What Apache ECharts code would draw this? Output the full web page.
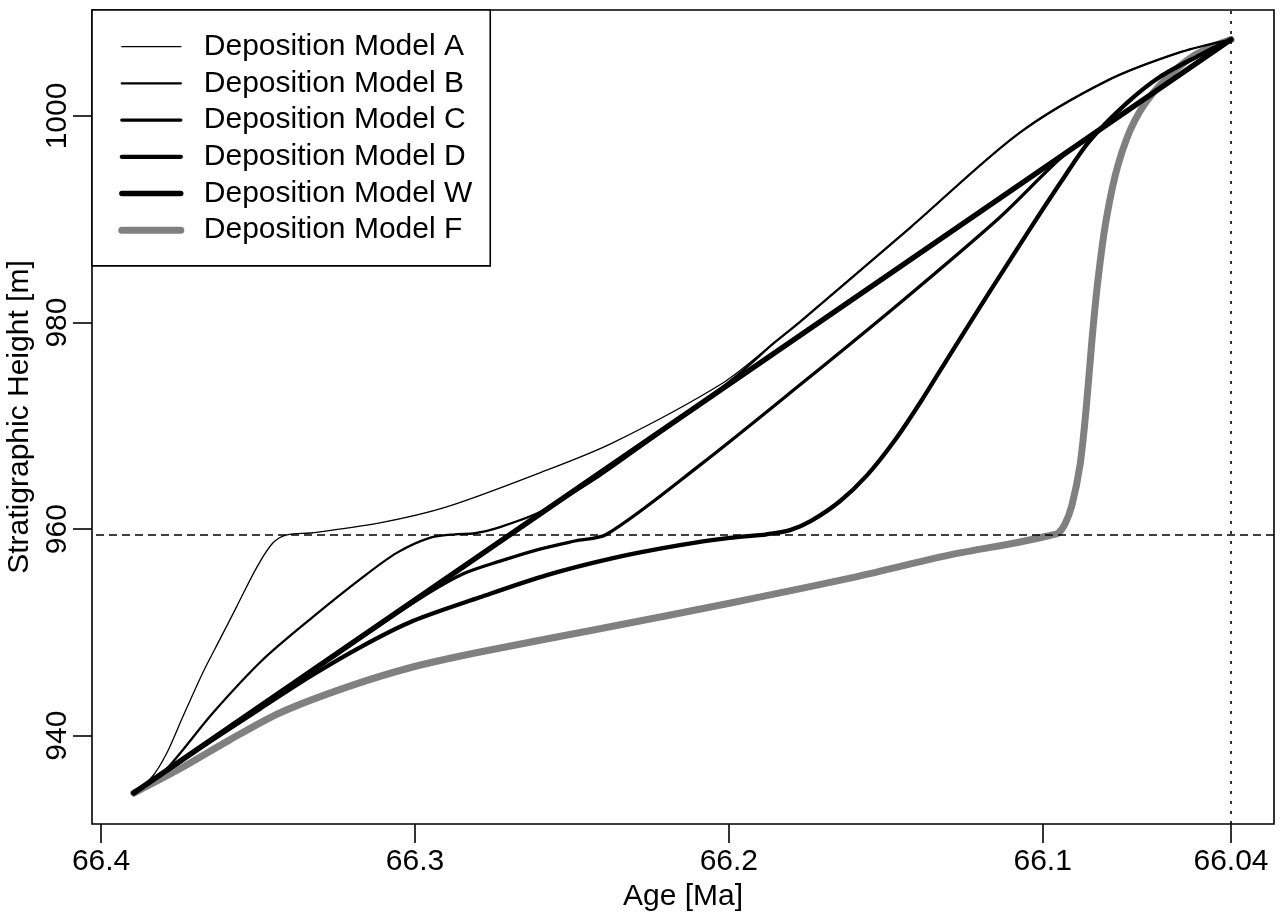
<!DOCTYPE html>
<html>
<head>
<meta charset="utf-8">
<script src="https://cdn.jsdelivr.net/npm/echarts@6/dist/echarts.min.js"></script>
<style>
html, body { margin: 0; padding: 0; background: #fff; }
#chart { width: 1282px; height: 913px; }
</style>
</head>
<body>
<div id="chart"></div>
<script>
// Age-depth curves: [age in Ma, stratigraphic height in m]
const modelA = [
  [66.3896, 934.45], [66.3838, 936.0], [66.3791, 938.3], [66.3740, 941.8],
  [66.3676, 946.1], [66.3622, 949.3], [66.3568, 952.5], [66.3504, 956.3],
  [66.3453, 958.65], [66.3408, 959.45], [66.3325, 959.65], [66.3112, 960.6],
  [66.2899, 962.15], [66.2602, 965.45], [66.2370, 968.35], [66.2019, 974.15],
  [66.1857, 978.0], [66.1774, 980.05], [66.1420, 989.25], [66.1079, 998.25],
  [66.0796, 1003.4], [66.0559, 1006.2], [66.0400, 1007.4]
];
const modelB = [
  [66.3896, 934.45], [66.3803, 936.4], [66.3644, 942.2], [66.3485, 947.35],
  [66.3325, 951.5], [66.3166, 955.35], [66.3058, 957.7], [66.2953, 959.15],
  [66.2873, 959.5], [66.2809, 959.6], [66.2739, 960.1], [66.2602, 961.65],
  [66.2411, 965.15], [66.2251, 968.6], [66.2092, 972.1], [66.1965, 975.1],
  [66.1857, 978.0], [66.1774, 980.05], [66.1420, 989.25], [66.1079, 998.25],
  [66.0796, 1003.4], [66.0559, 1006.2], [66.0400, 1007.4]
];
const modelC = [
  [66.3896, 934.45], [66.3526, 942.2], [66.3207, 948.8], [66.2984, 953.3],
  [66.2848, 955.65], [66.2729, 956.9], [66.2602, 958.07], [66.2491, 958.85],
  [66.2389, 959.5], [66.2092, 966.2], [66.1774, 973.95], [66.1455, 981.9],
  [66.1136, 990.2], [66.0913, 996.7], [66.0658, 1002.0], [66.0400, 1007.4]
];
const modelD = [
  [66.3896, 934.45], [66.3685, 938.8], [66.3494, 942.6], [66.3325, 945.9],
  [66.3166, 948.7], [66.3007, 951.1], [66.2793, 953.4], [66.2580, 955.55],
  [66.2369, 957.2], [66.2156, 958.45], [66.1997, 959.15], [66.1879, 959.5],
  [66.1805, 959.9], [66.1738, 960.8], [66.1646, 962.7], [66.1560, 965.2],
  [66.1471, 968.6], [66.1385, 972.5], [66.1295, 976.9], [66.1206, 981.2],
  [66.1120, 985.3], [66.1031, 989.5], [66.0942, 993.6], [66.0853, 997.5],
  [66.0734, 1001.2], [66.0626, 1003.8], [66.0499, 1005.9], [66.0400, 1007.4]
];
const modelW = [
  [66.3896, 934.45], [66.0400, 1007.4]
];
const modelF = [
  [66.3896, 934.45], [66.3749, 936.8], [66.3590, 939.6], [66.3431, 942.2],
  [66.3217, 944.7], [66.3007, 946.65], [66.2793, 948.1], [66.2411, 950.35],
  [66.1994, 952.85], [66.1614, 955.25], [66.1295, 957.5], [66.1072, 958.75],
  [66.0976, 959.4], [66.0951, 959.6], [66.0929, 960.5], [66.0907, 962.3],
  [66.0881, 966.2], [66.0862, 971.5], [66.0843, 978.3], [66.0824, 984.1],
  [66.0798, 989.9], [66.0760, 995.25], [66.0706, 999.6], [66.0626, 1003.0],
  [66.0515, 1005.9], [66.0400, 1007.4]
];

const modelNames = [
  'Deposition Model A', 'Deposition Model B', 'Deposition Model C',
  'Deposition Model D', 'Deposition Model W', 'Deposition Model F'
];

// Axis ticks and extents
const ageTicks = [66.4, 66.3, 66.2, 66.1, 66.04];
const heightTicks = [940, 960, 980, 1000];
const ageExtent = [66.0263, 66.4029];
const heightExtent = [931.45, 1010.26];

// Reference lines: boundary level and boundary age
const boundaryHeight = 959.5;
const boundaryAge = 66.04;

const FONT = '"Liberation Sans", Arial, Helvetica, sans-serif';
const BLACK = '#000000';
const GREY = '#808080';

function curve(name, data, width, color) {
  return {
    name: name,
    type: 'line',
    data: data,
    symbol: 'none',
    showSymbol: false,
    smooth: 0.3,
    silent: true,
    animation: false,
    lineStyle: { width: width, color: color, cap: 'round', join: 'round' },
    itemStyle: { color: color }
  };
}

const chart = echarts.init(document.getElementById('chart'), null, { renderer: 'canvas' });

const series = [
  curve(modelNames[5], modelF, 7, GREY),
  curve(modelNames[0], modelA, 1.3, BLACK),
  curve(modelNames[1], modelB, 2.3, BLACK),
  curve(modelNames[2], modelC, 3.3, BLACK),
  curve(modelNames[3], modelD, 4.3, BLACK),
  curve(modelNames[4], modelW, 5.3, BLACK)
];

series[0].markLine = {
  silent: true,
  symbol: 'none',
  animation: false,
  label: { show: false },
  data: [
    { yAxis: boundaryHeight, lineStyle: { color: BLACK, width: 1.6, type: [8, 5] } },
    { xAxis: boundaryAge, lineStyle: { color: BLACK, width: 1.6, type: [3, 7] } }
  ]
};

chart.setOption({
  animation: false,
  backgroundColor: '#ffffff',
  textStyle: { fontFamily: FONT },
  grid: {
    left: 92, right: 8, top: 10, bottom: 89,
    outerBoundsMode: 'none',
    containLabel: false,
    show: true, borderColor: BLACK, borderWidth: 1.6, backgroundColor: 'transparent'
  },
  legend: {
    data: modelNames,
    orient: 'vertical',
    left: 92, top: 10,
    padding: [21.7, 18, 20.7, 26.3],
    itemWidth: 59, itemHeight: 14, itemGap: 6.7,
    selectedMode: false,
    backgroundColor: '#ffffff',
    borderColor: BLACK, borderWidth: 1.6,
    itemStyle: { opacity: 0 },
    lineStyle: { width: 'inherit', cap: 'round' },
    textStyle: { fontSize: 30, color: BLACK, fontFamily: FONT, lineHeight: 30, padding: [0, 0, 0, 18] }
  },
  xAxis: {
    type: 'value',
    inverse: true,
    min: ageExtent[0], max: ageExtent[1],
    name: 'Age [Ma]',
    nameLocation: 'middle',
    nameGap: 57,
    nameTextStyle: { fontSize: 30, color: BLACK, fontFamily: FONT },
    axisLine: { show: false },
    splitLine: { show: false },
    axisTick: { show: true, length: 19, customValues: ageTicks, lineStyle: { color: BLACK, width: 1.6 } },
    axisLabel: {
      customValues: ageTicks, fontSize: 30, color: BLACK, fontFamily: FONT, margin: 23,
      formatter: function (v) { return String(v); }
    }
  },
  yAxis: {
    type: 'value',
    min: heightExtent[0], max: heightExtent[1],
    name: 'Stratigraphic Height [m]',
    nameLocation: 'middle',
    nameRotate: 90,
    nameGap: 39,
    nameTextStyle: { fontSize: 30, color: BLACK, fontFamily: FONT },
    axisLine: { show: false },
    splitLine: { show: false },
    axisTick: { show: true, length: 19, customValues: heightTicks, lineStyle: { color: BLACK, width: 1.6 } },
    axisLabel: {
      customValues: heightTicks, rotate: 90, fontSize: 30, color: BLACK, fontFamily: FONT, margin: 19,
      formatter: function (v) { return String(v); }
    }
  },
  series: series
});
</script>
</body>
</html>
